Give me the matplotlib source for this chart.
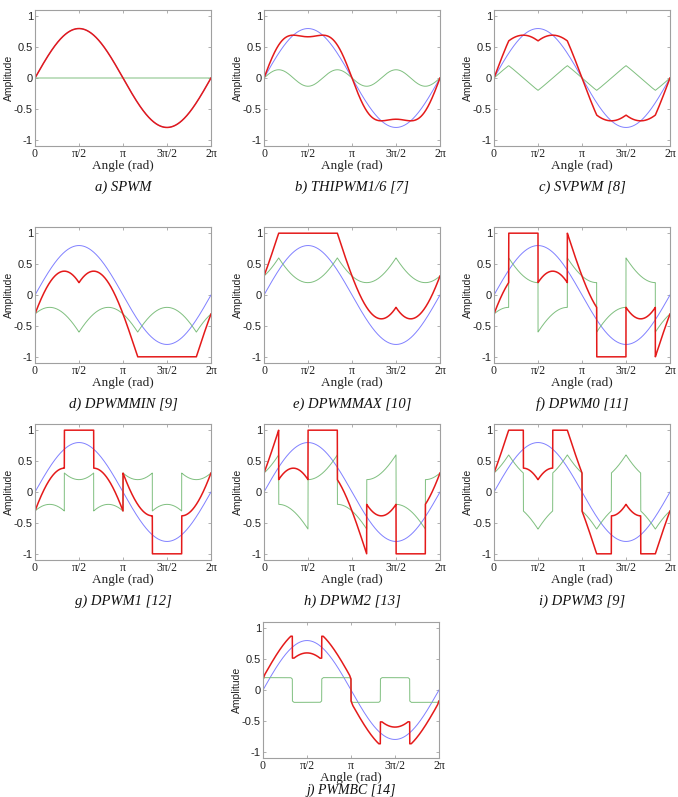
import numpy as np
import matplotlib.pyplot as plt

# peak of the blue phase reference
m_index = 0.8
# PWMBC: injected level and the peak the red signal is held to
bc_level = 0.2
bc_peak = 0.87

methods = ['SPWM', 'THIPWM', 'SVPWM', 'DPWMMIN', 'DPWMMAX',
           'DPWM0', 'DPWM1', 'DPWM2', 'DPWM3', 'PWMBC']
captions = ['a) SPWM', 'b) THIPWM1/6 [7]', 'c) SVPWM [8]', 'd) DPWMMIN [9]',
            'e) DPWMMAX [10]', 'f) DPWM0 [11]', 'g) DPWM1 [12]', 'h) DPWM2 [13]',
            'i) DPWM3 [9]', 'j) PWMBC [14]']
xtick_labels = ['0', 'π/2', 'π', '3π/2', '2π']
ytick_values = [-1, -0.5, 0, 0.5, 1]
ytick_labels = ['-1', '-0.5', '0', '0.5', '1']

W, H = 678, 797
# axes boxes in pixels: left, top
col_left = [35, 264, 494]
row_top = [10, 227, 424, 622]
ax_w, ax_h = 176, 136

th = np.linspace(0, 2 * np.pi, 4001)


def phases(t):
    return np.array([m_index * np.sin(t),
                     m_index * np.sin(t - 2 * np.pi / 3),
                     m_index * np.sin(t + 2 * np.pi / 3)])


ph = phases(th)
va = ph[0]
vmax = ph.max(axis=0)
vmin = ph.min(axis=0)


def dpwm_shift(shift):
    # clamp decided on shifted references (DPWM1 rule)
    s = phases(th + shift)
    top = np.abs(s.max(axis=0)) >= np.abs(s.min(axis=0))
    return np.where(top, 1 - vmax, -1 - vmin)


def zero_seq(name):
    if name == 'SPWM':
        return np.zeros_like(th)
    if name == 'THIPWM':
        return m_index / 6 * np.sin(3 * th)
    if name == 'SVPWM':
        return -(vmax + vmin) / 2
    if name == 'DPWMMIN':
        return -1 - vmin
    if name == 'DPWMMAX':
        return 1 - vmax
    if name == 'DPWM0':
        return dpwm_shift(np.pi / 6)
    if name == 'DPWM1':
        return dpwm_shift(0)
    if name == 'DPWM2':
        return dpwm_shift(-np.pi / 6)
    if name == 'DPWM3':
        return np.where(np.abs(vmax) < np.abs(vmin), 1 - vmax, -1 - vmin)
    if name == 'PWMBC':
        sector = np.minimum(np.floor(th / (np.pi / 3)), 5)
        sign = np.where(sector % 2 == 0, 1.0, -1.0)
        v0 = bc_level * sign
        v0 = np.minimum(v0, bc_peak - vmax)
        v0 = np.maximum(v0, -bc_peak - vmin)
        return v0


fig = plt.figure(figsize=(W / 100, H / 100), dpi=100)

serif = ['Liberation Serif', 'DejaVu Serif']
sans = ['Liberation Sans', 'DejaVu Sans']

for i, (name, cap) in enumerate(zip(methods, captions)):
    if i < 9:
        left, top = col_left[i % 3], row_top[i // 3]
    else:
        left, top = 263, row_top[3]
    ax = fig.add_axes([left / W, 1 - (top + ax_h) / H, ax_w / W, ax_h / H])
    v0 = zero_seq(name)
    ax.plot(th, va, color='#8080ff', lw=0.7)
    ax.plot(th, v0, color='#7fbf7f', lw=0.7)
    ax.plot(th, va + v0, color='#e41a1a', lw=1.1)

    ax.set_xlim(0, 2 * np.pi)
    ax.set_ylim(-1.1, 1.1)
    ax.set_xticks(np.arange(5) * np.pi / 2)
    ax.set_xticklabels(xtick_labels, family=serif, fontsize=8.5)
    ax.set_yticks(ytick_values)
    ax.set_yticklabels(ytick_labels, family=sans, fontsize=8)
    ax.tick_params(direction='in', length=2.5, width=0.5, color='#909090',
                   top=True, right=True, pad=1.5, labelcolor='#222222')
    for sp in ax.spines.values():
        sp.set_color('#a0a0a0')
        sp.set_linewidth(0.8)
    ax.set_ylabel('Amplitude', family=sans, fontsize=7.5, labelpad=0, color='#222222')
    ax.set_xlabel('Angle (rad)', family=serif, fontsize=9.5, labelpad=0, color='#222222')

    dy = 41 if i < 9 else 32
    fs = 10.5 if i < 9 else 10
    fig.text((left + ax_w / 2) / W, 1 - (top + ax_h + dy) / H, cap,
             family=serif, style='italic', fontsize=fs,
             ha='center', va='center', color='#111111')

fig.savefig('out.png', dpi=100)
